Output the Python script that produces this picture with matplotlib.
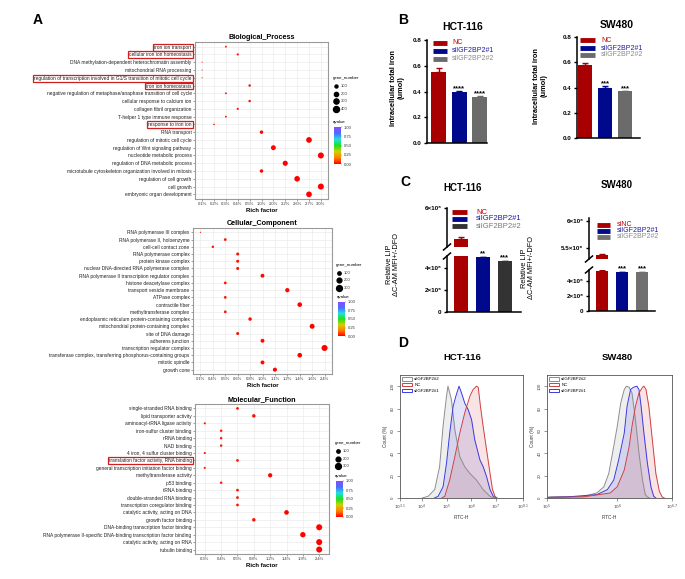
import numpy as np
import matplotlib.pyplot as plt
from matplotlib.lines import Line2D
from matplotlib.patches import Patch
from matplotlib.colors import LinearSegmentedColormap, Normalize
from matplotlib.cm import ScalarMappable

plt.rcParams['font.family'] = ['Liberation Sans', 'DejaVu Sans']

# ---------------- data: panel A (GO enrichment) ----------------
bp_terms = ['iron ion transport', 'cellular iron ion homeostasis',
            'DNA methylation-dependent heterochromatin assembly', 'mitochondrial RNA processing',
            'regulation of transcription involved in G1/S transition of mitotic cell cycle',
            'iron ion homeostasis', 'negative regulation of metaphase/anaphase transition of cell cycle',
            'cellular response to calcium ion', 'collagen fibril organization',
            'T-helper 1 type immune response', 'response to iron ion', 'RNA transport',
            'regulation of mitotic cell cycle', 'regulation of Wnt signaling pathway',
            'nucleotide metabolic process', 'regulation of DNA metabolic process',
            'microtubule cytoskeleton organization involved in mitosis', 'regulation of cell growth',
            'cell growth', 'embryonic organ development']
bp_levels = ['0.1%', '0.2%', '0.3%', '0.4%', '0.5%', '1.0%', '2.0%', '2.2%', '2.6%', '2.7%', '3.0%']
bp_rich = ['0.3%', '0.4%', '0.1%', '0.1%', '0.1%', '0.5%', '0.3%', '0.5%', '0.4%', '0.3%',
           '0.2%', '1.0%', '2.7%', '2.0%', '3.0%', '2.2%', '1.0%', '2.6%', '3.0%', '2.7%']
bp_genes = [40, 53, 13, 13, 13, 67, 40, 67, 53, 40, 27, 133, 359, 266, 399, 293, 133, 346, 399, 359]
bp_q = [0.03, 0.02, 0.04, 0.04, 0.04, 0.02, 0.03, 0.02, 0.03, 0.03,
        0.03, 0.01, 0.0, 0.01, 0.0, 0.0, 0.01, 0.0, 0.0, 0.0]
bp_boxed = ['iron ion transport', 'cellular iron ion homeostasis',
            'regulation of transcription involved in G1/S transition of mitotic cell cycle',
            'iron ion homeostasis', 'response to iron ion']

cc_terms = ['RNA polymerase III complex', 'RNA polymerase II, holoenzyme', 'cell-cell contact zone',
            'RNA polymerase complex', 'protein kinase complex',
            'nuclear DNA-directed RNA polymerase complex',
            'RNA polymerase II transcription regulator complex', 'histone deacetylase complex',
            'transport vesicle membrane', 'ATPase complex', 'contractile fiber',
            'methyltransferase complex', 'endoplasmic reticulum protein-containing complex',
            'mitochondrial protein-containing complex', 'site of DNA damage', 'adherens junction',
            'transcription regulator complex',
            'transferase complex, transferring phosphorus-containing groups', 'mitotic spindle',
            'growth cone']
cc_levels = ['0.1%', '0.4%', '0.5%', '0.6%', '0.8%', '1.0%', '1.1%', '1.2%', '1.4%', '1.6%', '2.4%']
cc_rich = ['0.1%', '0.5%', '0.4%', '0.6%', '0.6%', '0.6%', '1.0%', '0.5%', '1.2%', '0.5%',
           '1.4%', '0.5%', '0.8%', '1.6%', '0.6%', '1.0%', '2.4%', '1.4%', '1.0%', '1.1%']
cc_genes = [13, 67, 53, 80, 80, 80, 133, 67, 160, 67, 186, 67, 106, 213, 80, 133, 319, 186, 133, 146]
cc_q = [0.04, 0.03, 0.03, 0.02, 0.02, 0.02, 0.01, 0.03, 0.01, 0.03,
        0.0, 0.03, 0.02, 0.0, 0.02, 0.01, 0.0, 0.0, 0.01, 0.01]

mf_terms = ['single-stranded RNA binding', 'lipid transporter activity',
            'aminoacyl-tRNA ligase activity', 'iron-sulfur cluster binding', 'rRNA binding',
            'NAD binding', '4 iron, 4 sulfur cluster binding',
            'translation factor activity, RNA binding',
            'general transcription initiation factor binding', 'methyltransferase activity',
            'p53 binding', 'tRNA binding', 'double-stranded RNA binding',
            'transcription coregulator binding', 'catalytic activity, acting on DNA',
            'growth factor binding', 'DNA-binding transcription factor binding',
            'RNA polymerase II-specific DNA-binding transcription factor binding',
            'catalytic activity, acting on RNA', 'tubulin binding']
mf_levels = ['0.3%', '0.4%', '0.5%', '0.8%', '1.2%', '1.4%', '1.9%', '2.4%']
mf_rich = ['0.5%', '0.8%', '0.3%', '0.4%', '0.4%', '0.4%', '0.3%', '0.5%', '0.3%', '1.2%',
           '0.4%', '0.5%', '0.5%', '0.5%', '1.4%', '0.8%', '2.4%', '1.9%', '2.4%', '2.4%']
mf_genes = [67, 106, 40, 53, 53, 53, 40, 67, 40, 160, 53, 67, 67, 67, 186, 106, 319, 253, 319, 319]
mf_q = [0.03, 0.02, 0.04, 0.03, 0.03, 0.03, 0.04, 0.03, 0.04, 0.01,
        0.03, 0.03, 0.03, 0.03, 0.0, 0.02, 0.0, 0.0, 0.0, 0.0]
mf_boxed = ['translation factor activity, RNA binding']

# ---------------- data: panel B (total iron) ----------------
groups = ['NC', 'siIGF2BP2#1', 'siIGF2BP2#2']
hct_iron = [0.555, 0.395, 0.36]
hct_iron_err = [0.025, 0.012, 0.006]
hct_iron_stars = ['', '****', '****']
sw_iron = [0.575, 0.40, 0.37]
sw_iron_err = [0.022, 0.010, 0.006]
sw_iron_stars = ['', '***', '***']

# ---------------- data: panel C (labile iron pool) ----------------
groups_sw = ['siNC', 'siIGF2BP2#1', 'siIGF2BP2#2']
hct_lip = [5.28e6, 4.98e6, 4.63e6]
hct_lip_err = [0.06e6, 0.04e6, 0.04e6]
hct_lip_stars = ['', '**', '***']
sw_lip = [5.375e6, 5.2e6, 5.2e6]
sw_lip_err = [0.02e6, 0.02e6, 0.02e6]
sw_lip_stars = ['', '***', '***']

# ---------------- data: panel D (flow histograms, x = log10 FITC-H, y = % of max) ----------------
hct_si2_x = [4.0, 4.24, 4.51, 4.71, 4.85, 4.99, 5.05, 5.19, 5.33, 5.53, 5.73, 5.94, 6.21, 6.48, 6.76, 6.9]
hct_si2_y = [0, 1.5, 7.5, 28, 64, 91, 100, 88, 61, 37, 28, 22, 16, 7.5, 1.5, 0]
hct_si1_x = [4.5, 4.65, 4.85, 4.99, 5.12, 5.26, 5.37, 5.50, 5.60, 5.73, 5.87, 6.01, 6.14, 6.35,
             6.48, 6.62, 6.76, 6.89, 7.0]
hct_si1_y = [0, 1.5, 10, 31, 58, 82, 91, 100, 94, 85, 79, 70, 52, 34, 28, 19, 7.5, 1.5, 0]
hct_nc_x = [4.8, 4.92, 5.12, 5.33, 5.53, 5.73, 5.94, 6.07, 6.21, 6.28, 6.37, 6.48, 6.62, 6.76,
            6.86, 6.96, 7.05]
hct_nc_y = [0, 1.5, 16, 37, 58, 76, 91, 97, 100, 99, 82, 64, 43, 22, 7.5, 1.5, 0]

sw_si2_x = [5.0, 5.05, 5.52, 5.71, 5.81, 5.88, 5.95, 6.00, 6.05, 6.10, 6.13, 6.17, 6.21, 6.26,
            6.31, 6.36, 6.40, 6.43, 6.46]
sw_si2_y = [0.5, 1, 1.5, 4.5, 10, 22, 46, 64, 85, 97, 100, 99, 94, 70, 40, 16, 3, 1, 0]
sw_si1_x = [5.0, 5.29, 5.71, 5.86, 5.95, 6.02, 6.10, 6.14, 6.19, 6.23, 6.28, 6.31, 6.34, 6.38,
            6.43, 6.48, 6.52, 6.55]
sw_si1_y = [0.5, 1, 3, 7.5, 16, 34, 58, 82, 97, 99, 100, 97, 82, 58, 31, 10, 1.5, 0]
sw_nc_x = [5.0, 5.52, 5.90, 6.00, 6.10, 6.17, 6.21, 6.26, 6.31, 6.36, 6.38, 6.41, 6.45, 6.50,
           6.55, 6.60, 6.64, 6.67]
sw_nc_y = [0.5, 1, 4.5, 10, 25, 46, 64, 82, 94, 99, 100, 97, 82, 52, 22, 6, 1, 0]

# ---------------- figure ----------------
W, H = 685, 579
fig = plt.figure(figsize=(W / 100, H / 100), dpi=100)


def box(l, t, r, b):
    # axes from pixel edges (top-left origin)
    return fig.add_axes([l / W, 1 - b / H, (r - l) / W, (b - t) / H])


def ftext(x, y, s, **kw):
    return fig.text(x / W, 1 - y / H, s, **kw)


qcmap = LinearSegmentedColormap.from_list(
    'q', ['#ff0000', '#ff8000', '#d0d000', '#20e020', '#20e0e0', '#4a6cff', '#8a4dff'])
qnorm = Normalize(0, 1)


def dotplot(rect, title, terms, levels, rich, genes, qv, gmax, leg_vals, boxed, leg, cbar):
    ax = box(*rect)
    x = [levels.index(r) for r in rich]
    y = np.arange(len(terms))[::-1]
    smax = 19
    ax.scatter(x, y, s=np.array(genes) / gmax * smax, c=qv, cmap=qcmap, norm=qnorm,
               linewidths=0, zorder=3)
    ax.set_xticks(range(len(levels)), levels, fontsize=3.0, color='#333')
    ax.set_yticks(y, terms, fontsize=3.5, color='#222')
    ax.set_xlim(-0.6, len(levels) - 0.4)
    ax.set_ylim(-0.6, len(terms) - 0.4)
    ax.grid(color='#ececec', lw=0.5)
    ax.set_axisbelow(True)
    for s in ax.spines.values():
        s.set_color('#9a9a9a')
        s.set_linewidth(0.8)
    ax.tick_params(length=1.5, width=0.4, color='#555', pad=1)
    ax.set_title(title, fontsize=5.2, fontweight='bold', pad=2)
    ax.set_xlabel('Rich factor', fontsize=4.3, fontweight='bold', labelpad=1)
    for lab in ax.get_yticklabels():
        if lab.get_text() in boxed:
            lab.set_bbox(dict(facecolor='none', edgecolor='#d21e1e', lw=0.9, pad=0.7))
    # gene_number legend
    lx, ly = leg
    ftext(lx, ly, 'gene_number', fontsize=3.2, va='center')
    for i, v in enumerate(leg_vals):
        yy = ly + 8 + i * 7.5
        fig.add_artist(Line2D([(lx + 3) / W], [1 - yy / H], marker='o', color='k', lw=0,
                              markersize=np.sqrt(v / gmax * smax)))
        ftext(lx + 8, yy, str(v), fontsize=3.0, va='center', color='#333')
    # qvalue colorbar
    cl, ct, cr, cb_ = cbar
    ftext(cl - 1, ct - 5, 'qvalue', fontsize=3.2, va='center')
    cax = box(cl, ct, cr, cb_)
    cb = fig.colorbar(ScalarMappable(qnorm, qcmap), cax=cax)
    cb.set_ticks([0, 0.25, 0.5, 0.75, 1.0], labels=['0.00', '0.25', '0.50', '0.75', '1.00'])
    cb.outline.set_visible(False)
    cax.tick_params(labelsize=3.0, length=1, width=0.3, pad=1, colors='#333')
    return ax


dotplot((195, 42, 328, 199), 'Biological_Process', bp_terms, bp_levels, bp_rich, bp_genes, bp_q,
        405, [100, 200, 300, 400], bp_boxed, (333, 78), (334, 127, 341, 164))
dotplot((193, 228, 332, 374), 'Cellular_Component', cc_terms, cc_levels, cc_rich, cc_genes, cc_q,
        320, [100, 200, 300], [], (336, 265), (338, 302, 345, 336))
dotplot((195, 404, 329, 554), 'Molecular_Function', mf_terms, mf_levels, mf_rich, mf_genes, mf_q,
        320, [100, 200, 300], mf_boxed, (335, 443), (336, 481, 343, 517))

# ---------------- panel B ----------------
red, blue, gray = '#a80000', '#00088c', '#6b6b6b'
txt_cols = ['#c00000', '#1a1aa0', '#8a8a8a']


def keylegend(x0, x1, xt, ys, labels, colors, tcolors, fs, lw=3.5):
    for yy, lab, c, tc in zip(ys, labels, colors, tcolors):
        fig.add_artist(Line2D([x0 / W, x1 / W], [1 - yy / H] * 2, color=c, lw=lw,
                              solid_capstyle='butt'))
        ftext(xt, yy, lab, color=tc, fontsize=fs, va='center')


def style_bar_ax(ax):
    ax.spines[['top', 'right']].set_visible(False)
    for s in ('left', 'bottom'):
        ax.spines[s].set_linewidth(1.1)
    ax.set_xticks([])
    ax.tick_params(axis='y', length=2.5, width=1, labelsize=4.5, pad=1.5)
    for lab in ax.get_yticklabels():
        lab.set_fontweight('bold')


def ironbars(rect, vals, errs, stars, width, xlim):
    ax = box(*rect)
    cols = [red, blue, gray]
    ax.bar(range(3), vals, width=width, color=cols)
    for i in range(3):
        ax.errorbar(i, vals[i], yerr=[[0], [errs[i]]], color=cols[i], capsize=2.5, lw=1,
                    capthick=1)
        if stars[i]:
            ax.text(i, vals[i] + errs[i] - 0.01, stars[i], ha='center', va='bottom',
                    fontsize=5.5, fontweight='bold')
    ax.set_xlim(*xlim)
    ax.set_ylim(0, 0.8)
    ax.set_yticks([0, 0.2, 0.4, 0.6, 0.8], ['0.0', '0.2', '0.4', '0.6', '0.8'])
    style_bar_ax(ax)
    return ax


ironbars((427, 40, 487, 143), hct_iron, hct_iron_err, hct_iron_stars, 0.73, (-0.58, 2.35))
ironbars((577, 37, 640, 138), sw_iron, sw_iron_err, sw_iron_stars, 0.67, (-0.4, 2.75))
ftext(463, 27, 'HCT-116', fontsize=7.5, fontweight='bold', ha='center', va='center')
ftext(617, 25, 'SW480', fontsize=7.5, fontweight='bold', ha='center', va='center')
ftext(397, 88, 'Intracellular total iron\n(umol)', fontsize=5.3, fontweight='bold',
      rotation=90, ha='center', va='center', linespacing=1.1)
ftext(540, 86, 'Intracellular total iron\n(umol)', fontsize=5.3, fontweight='bold',
      rotation=90, ha='center', va='center', linespacing=1.1)
keylegend(433, 447, 452, [43, 51, 59], groups, [red, blue, gray], txt_cols, 5.0)
keylegend(580, 595, 601, [40, 48, 55], groups, [red, blue, gray], txt_cols, 5.0)

# ---------------- panel C (broken axes) ----------------


def lipbars(xl, xr, top, bot, vals, errs, stars, cols, ylim_top, ylim_bot, ticks_top,
            labs_top, xlim):
    axu = box(xl, top[0], xr, top[1])
    axl = box(xl, bot[0], xr, bot[1])
    for a in (axu, axl):
        a.bar(range(3), vals, width=0.64, color=cols)
        for i in range(3):
            a.errorbar(i, vals[i], yerr=[[0], [errs[i]]], color=cols[i], capsize=2.5, lw=1,
                       capthick=1)
        a.set_xlim(*xlim)
        style_bar_ax(a)
    axu.spines['bottom'].set_visible(False)
    axu.set_ylim(*ylim_top)
    axl.set_ylim(*ylim_bot)
    axu.set_yticks(ticks_top, labs_top)
    axl.set_yticks([0, 2e6, 4e6], ['0', '2×10⁶', '4×10⁶'])
    for a in (axu, axl):
        for lab in a.get_yticklabels():
            lab.set_fontweight('bold')
    for i in range(3):
        if stars[i]:
            axl.text(i, vals[i] + errs[i] - 0.06e6, stars[i], ha='center', va='bottom',
                     fontsize=5.5, fontweight='bold')
    # break marks on the left spine
    for yy in (top[1], bot[0]):
        fig.add_artist(Line2D([(xl - 3.5) / W, (xl + 3.5) / W],
                              [1 - (yy + 3) / H, 1 - (yy - 3) / H], color='k', lw=1.1))


lipbars(447, 521, (208, 247), (256, 312), hct_lip, hct_lip_err, hct_lip_stars,
        [red, blue, '#333333'], (5.1e6, 6.0e6), (0, 5.1e6), [6e6], ['6×10⁶'], (-0.64, 2.73))
lipbars(589, 655, (218, 259), (270, 311), sw_lip, sw_lip_err, sw_lip_stars,
        [red, blue, '#707070'], (5.3e6, 6.055e6), (0, 5.45e6), [5.5e6, 6e6],
        ['5.5×10⁶', '6×10⁶'], (-0.65, 2.65))
ftext(463, 188, 'HCT-116', fontsize=7, fontweight='bold', ha='center', va='center')
ftext(617, 185, 'SW480', fontsize=7, fontweight='bold', ha='center', va='center')
ftext(393, 264, 'Relative LIP\nΔC-AM MFI+/-DFO', fontsize=5.3, rotation=90, ha='center',
      va='center', linespacing=1.1)
ftext(528, 268, 'Relative LIP\nΔC-AM MFI+/-DFO', fontsize=5.3, rotation=90, ha='center',
      va='center', linespacing=1.1)
keylegend(452, 467, 476, [212, 219, 226], groups, [red, blue, '#333333'],
          ['#c00000', '#1a1aa0', '#777777'], 5.5)
keylegend(597, 610, 617, [225, 231, 237], groups_sw, [red, blue, '#707070'],
          ['#c00000', '#1a1aa0', '#8a8a8a'], 5.0)

# ---------------- panel D (flow histograms) ----------------
d_gray, d_red, d_blue = '#8c8c8c', '#d04040', '#3a3ae0'


def flowpanel(rect, curves, xlim, xticks, xlabs):
    ax = box(*rect)
    for xs, ys, c in curves:
        ax.fill_between(xs, ys, color=c, alpha=0.14, lw=0)
        ax.plot(xs, ys, color=c, lw=0.7)
    ax.set_xlim(*xlim)
    ax.set_ylim(0, 110)
    ax.set_xticks(xticks, xlabs)
    ax.set_yticks([0, 20, 40, 60, 80, 100])
    ax.tick_params(labelsize=3.2, length=2, width=0.4, pad=1.5, colors='#444')
    for lab in ax.get_yticklabels():
        lab.set_rotation(90)
        lab.set_va('center')
    for s in ax.spines.values():
        s.set_linewidth(0.6)
        s.set_color('#555')
    ax.set_xlabel('FITC-H', fontsize=3.4, labelpad=2, color='#333')
    ax.set_ylabel('Count (%)', fontsize=3.4, labelpad=2, color='#333')
    handles = [Patch(facecolor='none', edgecolor=d_gray, lw=0.7),
               Patch(facecolor='none', edgecolor=d_red, lw=0.7),
               Patch(facecolor='none', edgecolor=d_blue, lw=0.7)]
    ax.legend(handles, ['siIGF2BP2#2', 'NC', 'siIGF2BP2#1'], loc='upper left', fontsize=3.2,
              frameon=False, handlelength=2.2, handleheight=0.8, labelspacing=0.35,
              borderpad=0.3, handletextpad=0.5, borderaxespad=0.2)
    return ax


flowpanel((400, 375, 523, 498),
          [(hct_si2_x, hct_si2_y, d_gray), (hct_si1_x, hct_si1_y, d_blue),
           (hct_nc_x, hct_nc_y, d_red)],
          (3.1, 8.1), [3.1, 4, 5, 6, 7, 8.1],
          [r'$10^{3.1}$', r'$10^{4}$', r'$10^{5}$', r'$10^{6}$', r'$10^{7}$', r'$10^{8.1}$'])
flowpanel((547, 375, 672, 498),
          [(sw_si2_x, sw_si2_y, d_gray), (sw_si1_x, sw_si1_y, d_blue),
           (sw_nc_x, sw_nc_y, d_red)],
          (5.0, 6.78), [5.0, 6.0, 6.78], [r'$10^{5}$', r'$10^{6}$', r'$10^{6.7}$'])
ftext(462, 358, 'HCT-116', fontsize=6.8, fontweight='bold', ha='center', va='center')
ftext(617, 358, 'SW480', fontsize=6.8, fontweight='bold', ha='center', va='center')

# panel letters
for letter, (x, y) in zip('ABCD', [(38, 20), (403, 20), (405, 182), (403, 343)]):
    ftext(x, y, letter, fontsize=10, fontweight='bold', ha='center', va='center')

fig.savefig('out.png', dpi=100, facecolor='white')
